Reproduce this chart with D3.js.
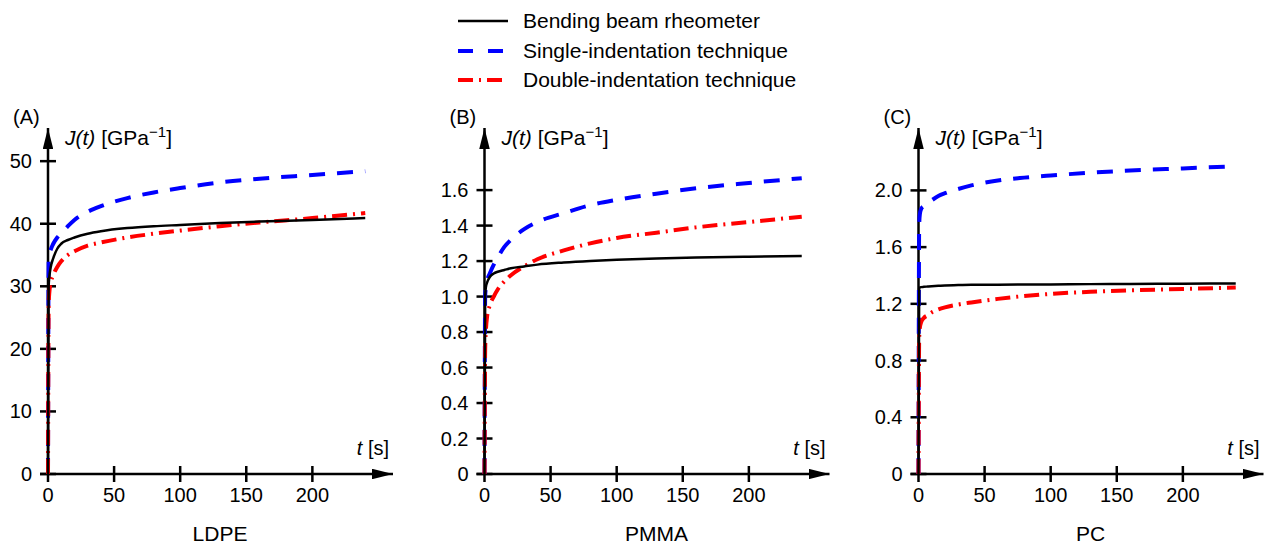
<!DOCTYPE html>
<html>
<head>
<meta charset="utf-8">
<script src="https://cdn.jsdelivr.net/npm/d3@7"></script>
<style>
  html, body { margin: 0; padding: 0; background: #fff; }
  svg { display: block; font-family: "Liberation Sans", Arial, Helvetica, sans-serif; }
</style>
</head>
<body>
<svg id="chart" width="1269" height="546"></svg>
<script>
// Creep compliance J(t) of three polymers, measured three ways.
const seriesNames = ["Bending beam rheometer", "Single-indentation technique", "Double-indentation technique"];
const materials = ["LDPE", "PMMA", "PC"];
const panelLetters = ["(A)", "(B)", "(C)"];

// time samples [s]
const timeS = [0, 0.5, 1, 2, 4, 7, 10, 15, 20, 30, 40, 60, 80, 100, 130, 160, 200, 240];

// LDPE, J(t) in 1/GPa
const ldpeBeam   = [0, 30.0, 31.5, 33.0, 34.5, 36.0, 36.8, 37.4, 37.8, 38.4, 38.8, 39.3, 39.6, 39.8, 40.1, 40.35, 40.6, 40.9];
const ldpeSingle = [0, 34.0, 35.0, 35.8, 36.8, 37.8, 38.5, 39.6, 40.6, 41.9, 42.8, 44.1, 45.0, 45.7, 46.6, 47.2, 47.8, 48.4];
const ldpeDouble = [0, 27.0, 29.0, 30.5, 31.8, 33.1, 34.0, 35.0, 35.6, 36.5, 37.0, 37.8, 38.4, 38.9, 39.6, 40.2, 40.9, 41.7];

// PMMA
const pmmaBeam   = [0, 1.00, 1.05, 1.08, 1.11, 1.13, 1.14, 1.15, 1.16, 1.17, 1.18, 1.192, 1.201, 1.208, 1.215, 1.22, 1.225, 1.228];
const pmmaSingle = [0, 1.00, 1.05, 1.09, 1.13, 1.18, 1.22, 1.28, 1.32, 1.38, 1.42, 1.47, 1.515, 1.545, 1.58, 1.61, 1.64, 1.667];
const pmmaDouble = [0, 0.70, 0.80, 0.89, 0.95, 1.00, 1.04, 1.085, 1.12, 1.17, 1.21, 1.26, 1.30, 1.33, 1.36, 1.39, 1.42, 1.45];

// PC
const pcBeam   = [0, 1.31, 1.315, 1.318, 1.32, 1.322, 1.324, 1.327, 1.33, 1.332, 1.334, 1.335, 1.336, 1.337, 1.339, 1.34, 1.342, 1.343];
const pcSingle = [0, 1.75, 1.83, 1.87, 1.89, 1.91, 1.93, 1.96, 1.98, 2.01, 2.035, 2.07, 2.09, 2.105, 2.125, 2.14, 2.155, 2.17];
const pcDouble = [0, 0.95, 1.03, 1.07, 1.10, 1.12, 1.14, 1.16, 1.175, 1.195, 1.21, 1.235, 1.255, 1.27, 1.285, 1.295, 1.305, 1.315];

// axis ticks
const xTicks = [0, 50, 100, 150, 200];
const yTicksLDPE = [0, 10, 20, 30, 40, 50];
const yLabelsLDPE = ["0", "10", "20", "30", "40", "50"];
const yTicksPMMA = [0, 0.2, 0.4, 0.6, 0.8, 1.0, 1.2, 1.4, 1.6];
const yLabelsPMMA = ["0", "0.2", "0.4", "0.6", "0.8", "1.0", "1.2", "1.4", "1.6"];
const yTicksPC = [0, 0.4, 0.8, 1.2, 1.6, 2.0];
const yLabelsPC = ["0", "0.4", "0.8", "1.2", "1.6", "2.0"];

// value reached at the tip of each axis arrow
const xAxisEnd = 261;
const yAxisEnds = [55.3, 1.95, 2.44];

const panels = [
  { beam: ldpeBeam, single: ldpeSingle, dbl: ldpeDouble, yTicks: yTicksLDPE, yLabels: yLabelsLDPE },
  { beam: pmmaBeam, single: pmmaSingle, dbl: pmmaDouble, yTicks: yTicksPMMA, yLabels: yLabelsPMMA },
  { beam: pcBeam,   single: pcSingle,   dbl: pcDouble,   yTicks: yTicksPC,   yLabels: yLabelsPC }
];

// --- layout / styling ---
const originsX = [48, 484.5, 918.5];
const originY = 474;
const axisTopY = 128;
const axisLen = 345;
const styles = [
  { color: "#000000", width: 2.5, dash: null },
  { color: "#0000ff", width: 4, dash: "16,12" },
  { color: "#ff0000", width: 4, dash: "15,6,2,6" }
];

const svg = d3.select("#chart");

// arrowheads
const defs = svg.append("defs");
defs.append("marker")
  .attr("id", "arrow")
  .attr("viewBox", "0 0 20 10")
  .attr("refX", 20).attr("refY", 5)
  .attr("markerUnits", "userSpaceOnUse")
  .attr("markerWidth", 21).attr("markerHeight", 10.5)
  .attr("orient", "auto")
  .append("path").attr("d", "M0,0 L20,5 L0,10 Z").attr("fill", "#000");

const line = d3.line().curve(d3.curveMonotoneX);

panels.forEach((p, i) => {
  const ox = originsX[i];
  const x = d3.scaleLinear().domain([0, xAxisEnd]).range([ox, ox + axisLen]);
  const y = d3.scaleLinear().domain([0, yAxisEnds[i]]).range([originY, axisTopY]);
  const g = svg.append("g");

  // axes with arrow tips
  g.append("line")
    .attr("x1", x(0) - 8).attr("x2", x(xAxisEnd))
    .attr("y1", y(0)).attr("y2", y(0))
    .attr("stroke", "#000").attr("stroke-width", 2.5)
    .attr("marker-end", "url(#arrow)");
  g.append("line")
    .attr("x1", x(0)).attr("x2", x(0))
    .attr("y1", y(0)).attr("y2", y(yAxisEnds[i]))
    .attr("stroke", "#000").attr("stroke-width", 2.5)
    .attr("marker-end", "url(#arrow)");

  // x ticks (crossing the axis)
  g.selectAll(".xt").data(xTicks).enter().append("line")
    .attr("x1", d => x(d)).attr("x2", d => x(d))
    .attr("y1", y(0) - 8).attr("y2", y(0) + 8)
    .attr("stroke", "#000").attr("stroke-width", 2.5);
  g.selectAll(".xl").data(xTicks).enter().append("text")
    .attr("x", d => x(d)).attr("y", 502)
    .attr("text-anchor", "middle")
    .attr("font-size", 20)
    .text(d => d);

  // y ticks
  g.selectAll(".yt").data(p.yTicks).enter().append("line")
    .attr("x1", x(0) - 8).attr("x2", x(0) + 8)
    .attr("y1", d => y(d)).attr("y2", d => y(d))
    .attr("stroke", "#000").attr("stroke-width", 2.5);
  g.selectAll(".yl").data(p.yTicks).enter().append("text")
    .attr("x", x(0) - 16).attr("y", d => y(d) + 7)
    .attr("text-anchor", "end")
    .attr("font-size", 20)
    .text((d, k) => p.yLabels[k]);

  // curves
  [p.beam, p.single, p.dbl].forEach((vals, s) => {
    const pts = timeS.map((t, k) => [x(t), y(vals[k])]);
    g.append("path")
      .attr("d", line(pts))
      .attr("fill", "none")
      .attr("stroke", styles[s].color)
      .attr("stroke-width", styles[s].width)
      .attr("stroke-dasharray", styles[s].dash);
  });
  // keep the measured reference line on top
  g.selectAll("path").filter((d, k) => k === 0).raise();

  // panel letter
  g.append("text")
    .attr("x", x(0) - 35).attr("y", 124)
    .attr("font-size", 20)
    .text(panelLetters[i]);

  // y-axis title
  const yt = g.append("text")
    .attr("x", x(0) + 17).attr("y", 145)
    .attr("font-size", 21);
  yt.append("tspan").attr("font-style", "italic").text("J(t)");
  yt.append("tspan").text(" [GPa");
  yt.append("tspan").attr("font-size", 15).attr("dy", -8).text("\u22121");
  yt.append("tspan").attr("dy", 8).text("]");

  // x-axis title
  const xt = g.append("text")
    .attr("x", x(xAxisEnd) - 4).attr("y", 455)
    .attr("text-anchor", "end")
    .attr("font-size", 20);
  xt.append("tspan").attr("font-style", "italic").text("t");
  xt.append("tspan").text(" [s]");

  // material name
  g.append("text")
    .attr("x", x(0) + 172).attr("y", 541)
    .attr("text-anchor", "middle")
    .attr("font-size", 21)
    .text(materials[i]);
});

// legend
const legendRows = [21, 51, 80];
const lg = svg.append("g");
seriesNames.forEach((name, s) => {
  lg.append("line")
    .attr("x1", 458).attr("x2", 508)
    .attr("y1", legendRows[s]).attr("y2", legendRows[s])
    .attr("stroke", styles[s].color)
    .attr("stroke-width", styles[s].width)
    .attr("stroke-dasharray", s === 0 ? null : (s === 1 ? "15,15" : "15,6,2,6"));
  lg.append("text")
    .attr("x", 523).attr("y", legendRows[s] + 7)
    .attr("font-size", 21)
    .text(name);
});
</script>
</body>
</html>
